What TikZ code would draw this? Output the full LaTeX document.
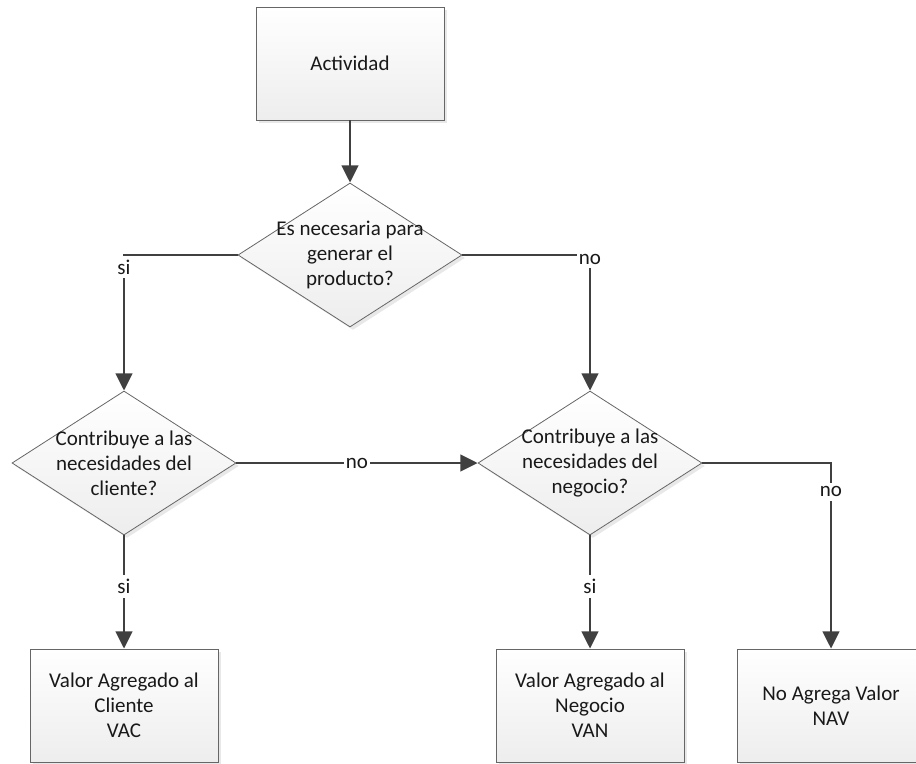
\documentclass[tikz,border=0pt]{standalone}
\usepackage{fontspec}
\setmainfont{Carlito}
\usetikzlibrary{shapes.geometric,arrows.meta,shadows}

\tikzset{
  texto/.style={font=\fontsize{15.75}{18.75}\selectfont, text=black!90},
  caja/.style={texto, draw=black!60, line width=.6pt, top color=white, bottom color=black!7,
    drop shadow={opacity=.18, shadow xshift=2.2pt, shadow yshift=-2.2pt},
    minimum width=141pt, minimum height=84.75pt, align=center, inner sep=0pt},
  decision/.style={caja, diamond, minimum width=168pt, minimum height=108pt},
  dtexto/.style={texto, align=center, inner sep=0pt},
  flujo/.style={draw=black!75, line width=2pt, -{Triangle[length=13pt,width=12.5pt]}},
  etiq/.style={texto, fill=white, inner xsep=1.5pt, inner ysep=3pt}
}

\begin{document}
\begin{tikzpicture}[x=.75pt,y=-.75pt]
  \useasboundingbox (0,0) rectangle (916,763);
  \node[caja]     (act) at (350,63.5) {Actividad};
  \node[decision,label={[dtexto]center:Es necesaria para\\generar el\\producto?}]   (q1) at (350,255) {};
  \node[decision,label={[dtexto]center:Contribuye a las\\necesidades del\\cliente?}] (q2) at (124,463) {};
  \node[decision,label={[dtexto]center:Contribuye a las\\necesidades del\\negocio?}] (q3) at (590,463) {};
  \node[caja]     (vac) at (124,705.5) {Valor Agregado al\\Cliente\\VAC};
  \node[caja]     (van) at (590,705.5) {Valor Agregado al\\Negocio\\VAN};
  \node[caja]     (nav) at (831,705.5) {No Agrega Valor\\NAV};

  \draw[flujo] (act) -- (q1);
  \draw[flujo] (q1.west) -| node[etiq,pos=.544] {si} (q2.north);
  \draw[flujo] (q1.east) -| node[etiq,pos=.515] {no} (q3.north);
  \draw[flujo] (q2.east) -- node[etiq] {no} (q3.west);
  \draw[flujo] (q2.south) -- node[etiq,pos=.45] {si} (vac.north);
  \draw[flujo] (q3.south) -- node[etiq,pos=.45] {si} (van.north);
  \draw[flujo] (q3.east) -| node[etiq,pos=.578] {no} (nav.north);
\end{tikzpicture}
\end{document}
